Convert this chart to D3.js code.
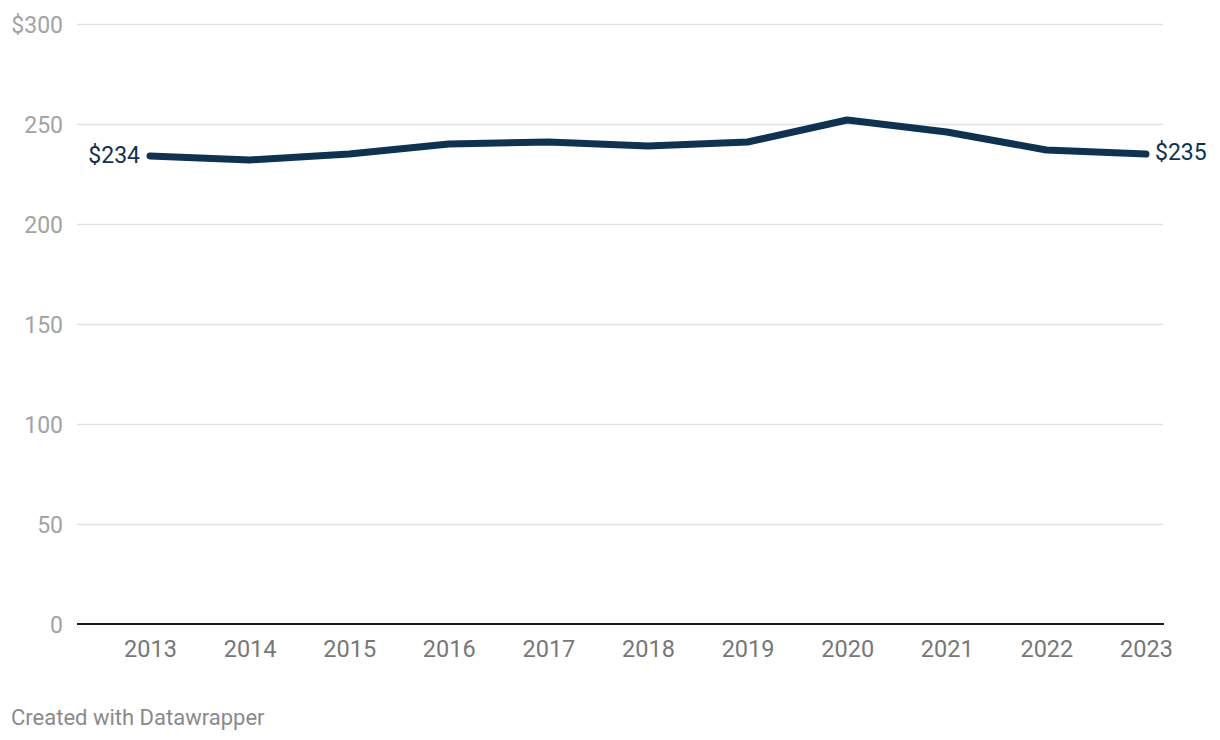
<!DOCTYPE html>
<html>
<head>
<meta charset="utf-8">
<script src="https://cdn.jsdelivr.net/npm/d3@7"></script>
<style>
  body { margin: 0; background: #fff; font-family: Roboto, sans-serif; }
</style>
</head>
<body>
<div id="chart"></div>
<script>
// data
const years = [2013, 2014, 2015, 2016, 2017, 2018, 2019, 2020, 2021, 2022, 2023];
const values = [234, 232, 235, 240, 241, 239, 241, 252, 246, 237, 235];
const yTicks = [0, 50, 100, 150, 200, 250, 300];

// constants
const width = 1220, height = 740;
const margin = {top: 24, right: 57, bottom: 116, left: 77};

const svg = d3.select("#chart")
  .append("svg")
  .attr("width", width)
  .attr("height", height);

const x = d3.scaleLinear()
  .domain([2012.267, 2023.171])
  .range([margin.left, width - margin.right]);

const y = d3.scaleLinear()
  .domain([0, 300])
  .range([height - margin.bottom, margin.top]);

// gridlines + y labels
const yAxis = svg.append("g")
  .attr("transform", `translate(${margin.left},0)`)
  .call(d3.axisLeft(y)
    .tickValues(yTicks)
    .tickSize(-(width - margin.right - margin.left))
    .tickPadding(14)
    .tickFormat(d => d === 300 ? "$300" : d));

yAxis.select(".domain").remove();
yAxis.selectAll(".tick line")
  .attr("stroke", d => d === 0 ? "none" : "#e3e3e3")
  .attr("stroke-width", 1.5);
yAxis.selectAll(".tick text")
  .attr("fill", "#a3a3a3")
  .attr("font-family", "Roboto, sans-serif")
  .attr("font-size", 23)
  .attr("dy", "0.35em");

// baseline
svg.append("line")
  .attr("x1", margin.left)
  .attr("x2", width - margin.right + 1)
  .attr("y1", y(0))
  .attr("y2", y(0))
  .attr("stroke", "#1a1a1a")
  .attr("stroke-width", 2);

// x labels
const xAxis = svg.append("g")
  .attr("transform", `translate(0,${y(0)})`)
  .call(d3.axisBottom(x)
    .tickValues(years)
    .tickSize(0)
    .tickPadding(16)
    .tickFormat(d3.format("d")));

xAxis.select(".domain").remove();
xAxis.selectAll(".tick text")
  .attr("fill", "#777")
  .attr("font-family", "Roboto, sans-serif")
  .attr("font-size", 23.5)
  .attr("dy", "0.71em");

// line
const line = d3.line()
  .x((d, i) => x(years[i]))
  .y(d => y(d));

svg.append("path")
  .datum(values)
  .attr("d", line)
  .attr("fill", "none")
  .attr("stroke", "#0e3352")
  .attr("stroke-width", 7)
  .attr("stroke-linejoin", "round")
  .attr("stroke-linecap", "round");

// end labels
const last = values.length - 1;
svg.append("text")
  .attr("x", x(years[0]) - 10)
  .attr("y", y(values[0]))
  .attr("dy", "0.3em")
  .attr("text-anchor", "end")
  .attr("fill", "#0e3352")
  .attr("font-size", 23)
  .text("$" + values[0]);

svg.append("text")
  .attr("x", x(years[last]) + 9)
  .attr("y", y(values[last]))
  .attr("dy", "0.25em")
  .attr("text-anchor", "start")
  .attr("fill", "#0e3352")
  .attr("font-size", 23)
  .text("$" + values[last]);

// footer
svg.append("text")
  .attr("x", 11)
  .attr("y", 725)
  .attr("fill", "#8a8a8a")
  .attr("font-size", 22)
  .text("Created with Datawrapper");
</script>
</body>
</html>
